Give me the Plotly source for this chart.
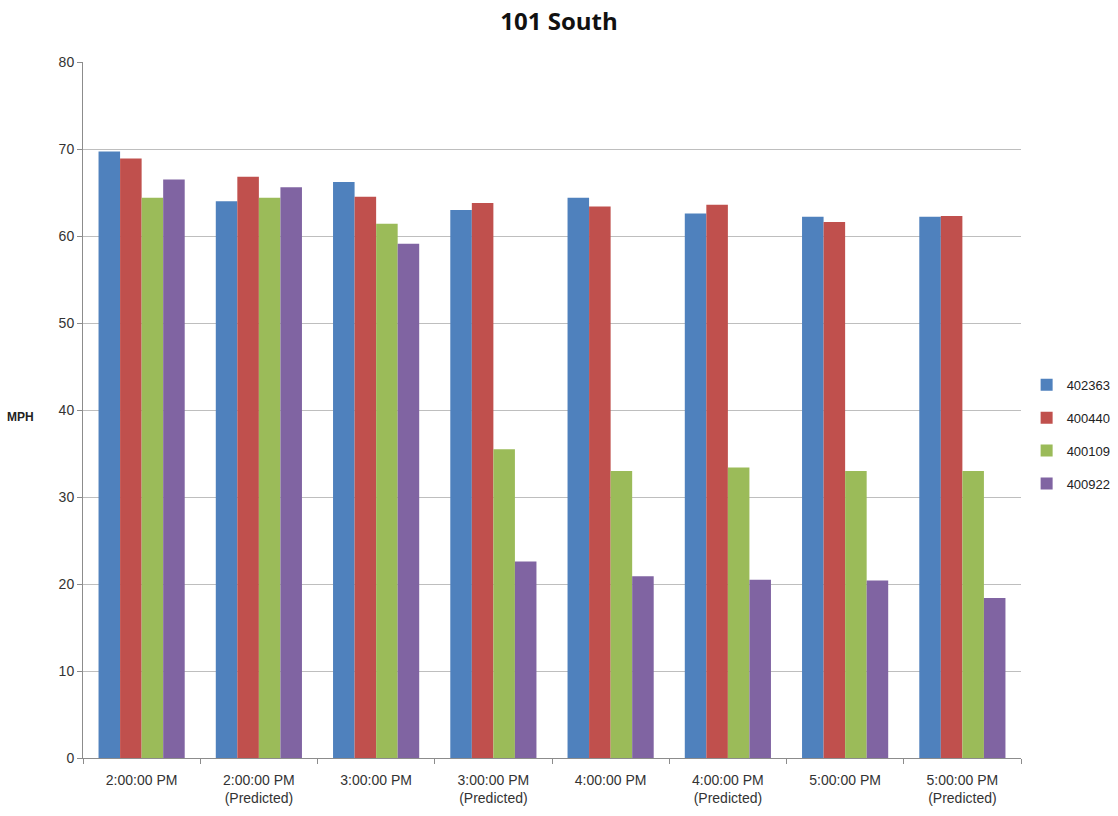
import plotly.graph_objects as go

categories = ["2:00:00 PM", "2:00:00 PM<br>(Predicted)", "3:00:00 PM", "3:00:00 PM<br>(Predicted)",
              "4:00:00 PM", "4:00:00 PM<br>(Predicted)", "5:00:00 PM", "5:00:00 PM<br>(Predicted)"]
series_names = ["402363", "400440", "400109", "400922"]
s402363 = [69.7, 64.0, 66.2, 63.0, 64.4, 62.6, 62.2, 62.2]
s400440 = [68.9, 66.8, 64.5, 63.8, 63.4, 63.6, 61.6, 62.3]
s400109 = [64.4, 64.4, 61.4, 35.5, 33.0, 33.4, 33.0, 33.0]
s400922 = [66.5, 65.6, 59.1, 22.6, 20.9, 20.5, 20.4, 18.4]
colors = ["#4F81BD", "#C0504D", "#9BBB59", "#8064A2"]

fig = go.Figure()
for name, vals, c in zip(series_names, [s402363, s400440, s400109, s400922], colors):
    fig.add_trace(go.Bar(x=categories, y=vals, name=name, legendgroup=name,
                         marker=dict(color=c, line=dict(width=0))))

fig.update_layout(
    width=1118, height=816,
    paper_bgcolor="white", plot_bgcolor="white",
    margin=dict(l=83, r=97, t=62, b=58, autoexpand=False),
    barmode="group", bargap=0.265, bargroupgap=0,
    font=dict(family="Liberation Sans, Arial, sans-serif", size=14, color="#333333"),
    title=dict(text="<b>101 South</b>", x=0.5, xanchor="center", y=0.973, yanchor="middle",
               font=dict(size=24, color="#111111", family="Open Sans, Liberation Sans, sans-serif")),
    legend=dict(x=1.006, y=0.465, xanchor="left", yanchor="middle", font=dict(size=13, color="#222222"),
                traceorder="grouped", tracegroupgap=13, itemwidth=30, bgcolor="rgba(0,0,0,0)"),
    xaxis=dict(showline=True, linecolor="#8C8C8C", linewidth=1, ticks="outside", tickson="boundaries",
               ticklen=5, tickcolor="#8C8C8C", tickfont=dict(size=14, color="#333333"), showgrid=False,
               ticklabelstandoff=9),
    yaxis=dict(range=[0, 80], dtick=10, showgrid=True, gridcolor="#BEBEBE", gridwidth=1,
               showline=True, linecolor="#8C8C8C", linewidth=1, ticks="outside", ticklen=5,
               tickcolor="#8C8C8C", tickfont=dict(size=14, color="#333333"), zeroline=False),
)
fig.add_annotation(text="<b>MPH</b>", xref="paper", yref="paper", x=-0.083, y=0.5 - 0.01,
                   xanchor="left", yanchor="middle", showarrow=False,
                   font=dict(size=12, color="#222222"))
fig.write_html("out.html")
